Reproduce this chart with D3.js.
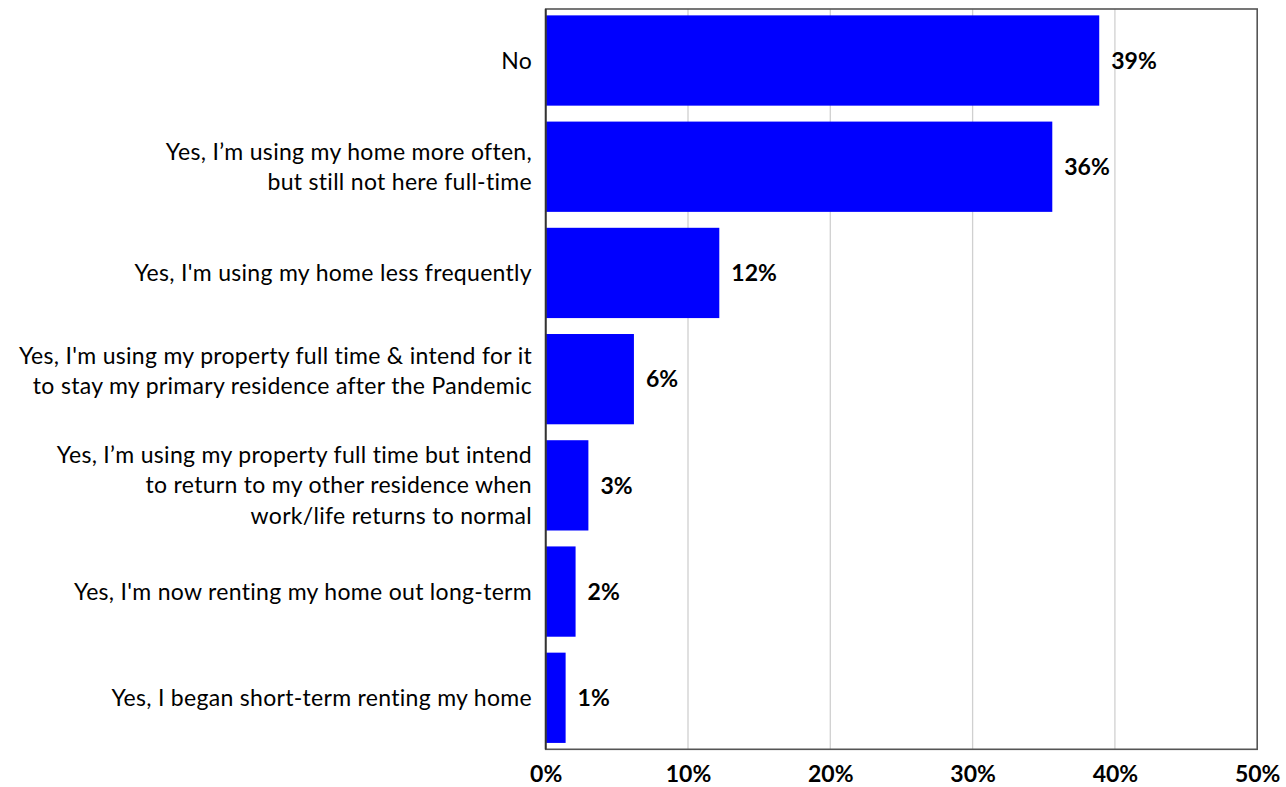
<!DOCTYPE html>
<html>
<head>
<meta charset="utf-8">
<script src="https://cdn.jsdelivr.net/npm/d3@7"></script>
<style>
  html, body { margin: 0; padding: 0; background: #fff; }
  svg { display: block; }
  text { font-family: Lato, "Open Sans", "DejaVu Sans", sans-serif; fill: #000; }
</style>
</head>
<body>
<svg id="chart" width="1286" height="787"></svg>
<script>
// Survey answers, top to bottom; each answer is split into its display lines
const categories = [
  ["No"],
  ["Yes, I\u2019m using my home more often,", "but still not here full-time"],
  ["Yes, I'm using my home less frequently"],
  ["Yes, I'm using my property full time & intend for it", "to stay my primary residence after the Pandemic"],
  ["Yes, I\u2019m using my property full time but intend", "to return to my other residence when", "work/life returns to normal"],
  ["Yes, I'm now renting my home out long-term"],
  ["Yes, I began short-term renting my home"]
];

// Share of respondents (%)
const values = [38.9, 35.6, 12.2, 6.2, 3.0, 2.1, 1.4];

// Axis ticks (%)
const ticks = [0, 10, 20, 30, 40, 50];

const svg = d3.select("#chart");

const plot = { left: 545.7, right: 1257.2, top: 9, bottom: 749.3 };

const x = d3.scaleLinear().domain([0, 50]).range([plot.left, plot.right]);
const y = d3.scaleBand()
  .domain(d3.range(categories.length))
  .range([plot.top, plot.bottom])
  .paddingInner(0.15)
  .paddingOuter(0.06);

const pct = v => d3.format(".0f")(v) + "%";

// Vertical gridlines
svg.append("g")
  .selectAll("line")
  .data(ticks.filter(t => t > 0 && t < 50))
  .join("line")
  .attr("x1", d => x(d)).attr("x2", d => x(d))
  .attr("y1", plot.top).attr("y2", plot.bottom)
  .attr("stroke", "#d0d0d0")
  .attr("stroke-width", 1.3);

// Bars
svg.append("g")
  .selectAll("rect")
  .data(values)
  .join("rect")
  .attr("x", x(0))
  .attr("y", (d, i) => y(i))
  .attr("width", d => x(d) - x(0))
  .attr("height", y.bandwidth())
  .attr("fill", "#0000ff");

// Plot frame
svg.append("rect")
  .attr("x", plot.left).attr("y", plot.top)
  .attr("width", plot.right - plot.left)
  .attr("height", plot.bottom - plot.top)
  .attr("fill", "none")
  .attr("stroke", "#555")
  .attr("stroke-width", 1.6);

// Left axis line
svg.append("line")
  .attr("x1", plot.left).attr("x2", plot.left)
  .attr("y1", plot.top).attr("y2", plot.bottom)
  .attr("stroke", "#333")
  .attr("stroke-width", 1.8);

// Value labels
svg.append("g")
  .selectAll("text")
  .data(values)
  .join("text")
  .attr("x", d => x(d) + 12)
  .attr("y", (d, i) => y(i) + y.bandwidth() / 2)
  .attr("dy", "0.36em")
  .style("font-size", "23px")
  .style("font-weight", "bold")
  .text(d => pct(d));

// Category labels, right-aligned against the axis
const lineGap = 30.3;
// the long two-line answer sits a little higher in its row
const rowNudge = i => (i === 3 ? -8 : 0);
const labels = svg.append("g")
  .selectAll("text")
  .data(categories)
  .join("text")
  .attr("text-anchor", "end")
  .style("font-size", "23px")
  .style("letter-spacing", "0.3px")
  .attr("y", (d, i) => y(i) + y.bandwidth() / 2 + rowNudge(i));

labels.selectAll("tspan")
  .data(d => d.map((line, j) => ({ line, j, n: d.length })))
  .join("tspan")
  .attr("x", 532)
  .attr("dy", (d, j) => j === 0 ? ((-(d.n - 1) / 2) * lineGap + 8) + "px" : lineGap + "px")
  .text(d => d.line);

// Bottom axis tick labels
const xAxis = d3.axisBottom(x)
  .tickValues(ticks)
  .tickFormat(pct)
  .tickSize(0)
  .tickPadding(0);

const axisG = svg.append("g")
  .attr("transform", `translate(0,${plot.bottom})`)
  .call(xAxis);
axisG.select(".domain").remove();
axisG.selectAll("text")
  .attr("y", 24.5)
  .attr("dy", "0.36em")
  .style("font-family", "Lato, 'Open Sans', 'DejaVu Sans', sans-serif")
  .style("font-size", "23px")
  .style("font-weight", "bold")
  .attr("fill", "#000");
</script>
</body>
</html>
